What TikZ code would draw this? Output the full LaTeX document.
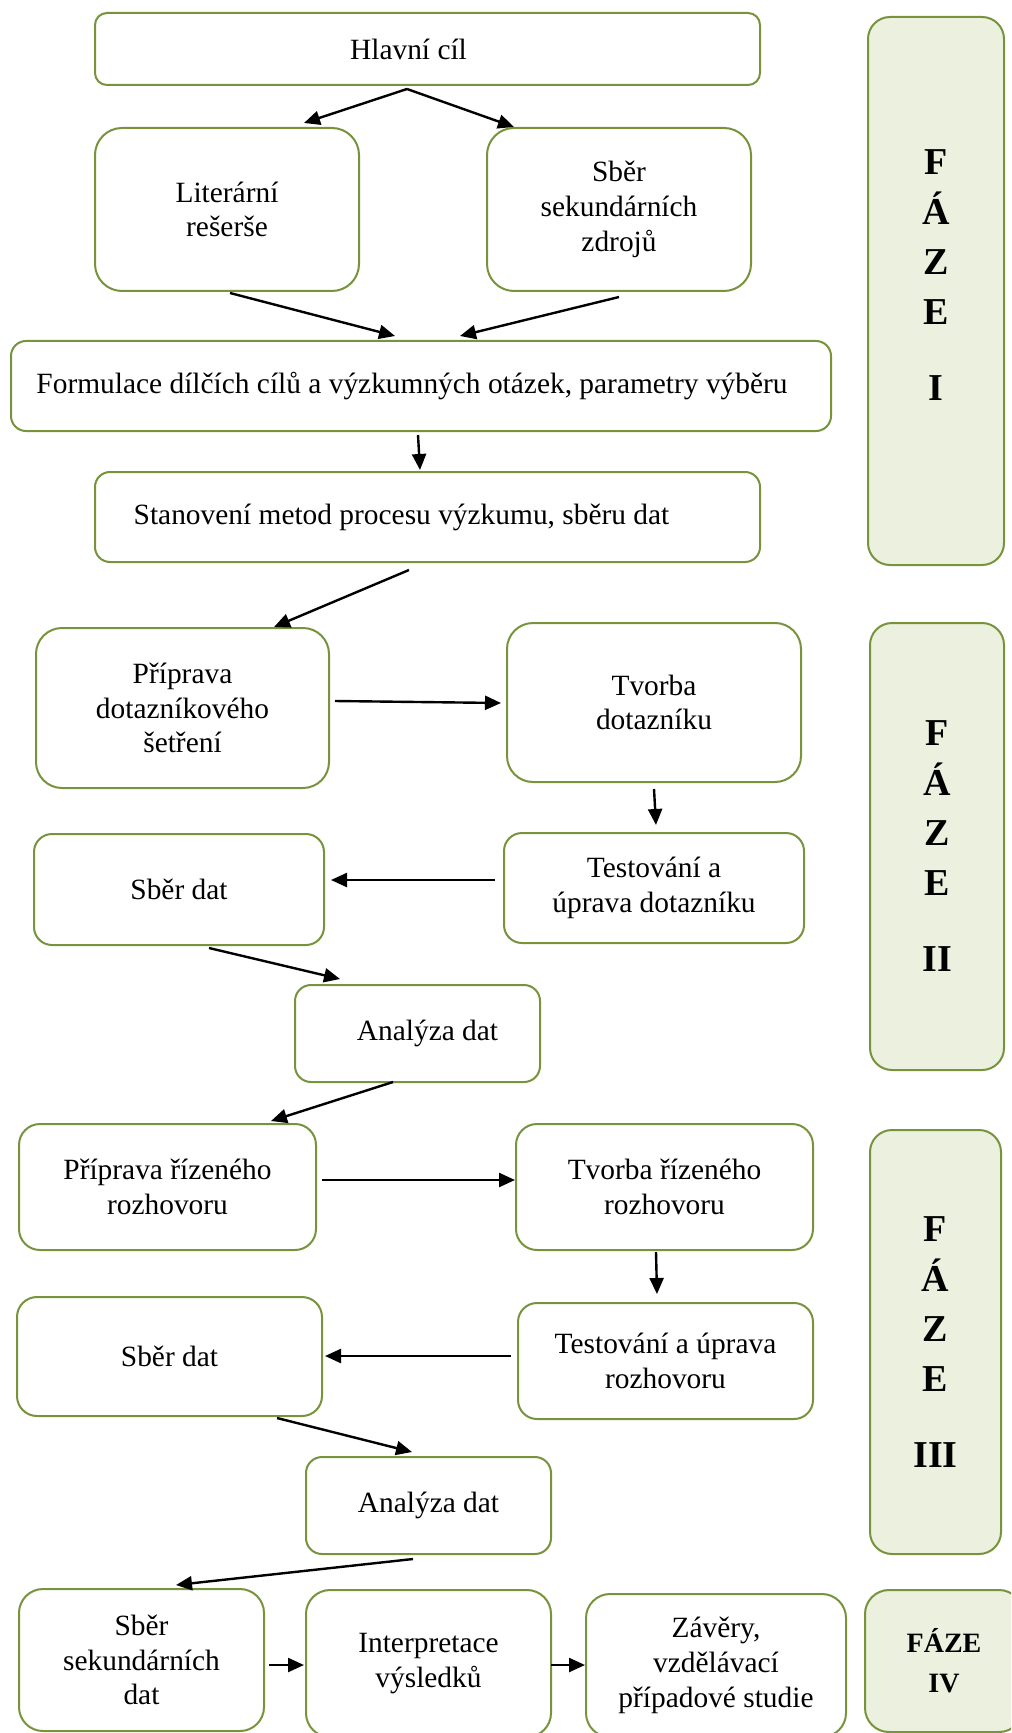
\documentclass[tikz,border=0pt]{standalone}
\usepackage{fontspec}
\setmainfont{Liberation Serif}
\usetikzlibrary{arrows.meta}
\definecolor{olivedge}{HTML}{77933C}
\definecolor{olivefill}{HTML}{EBF1DE}
\begin{document}
\begin{tikzpicture}[x=0.5pt,y=-0.5pt,
  box/.style={draw=olivedge, line width=1pt, inner sep=0pt, align=center,
    font=\fontsize{14.7}{17.4}\selectfont},
  sz/.style 2 args={minimum width=#1pt, minimum height=#2pt},
  phase/.style={box, fill=olivefill, font=\fontsize{19}{25}\selectfont\bfseries},
  arr/.style={-{Triangle[length=8pt,width=7pt]}, line width=1.2pt}]
\clip (0,0) rectangle (1011,1733);
\fill[white] (0,0) rectangle (1011,1733);

% ---- phase I ----
\node[box, rounded corners=6pt, sz={332.5}{36}] (hl) at (427.5,49) {Hlavní cíl\hspace*{19pt}};
\node[box, rounded corners=13.5pt, sz={132}{81.5}] (lit) at (227,209.5) {Literární\\rešerše};
\node[box, rounded corners=13.5pt, sz={132}{81.5}] (sek) at (619,209.5) {Sběr\\sekundárních\\zdrojů};
\node[box, rounded corners=7.5pt, sz={410}{45}] (form) at (421,386)
  {Formulace dílčích cílů a výzkumných otázek, parametry výběru\hspace*{9pt}};
\node[box, rounded corners=7.5pt, sz={332.5}{45}] (stan) at (427.5,517)
  {Stanovení metod procesu výzkumu, sběru dat\hspace*{26pt}};
% the letters sit a little above the middle of the first phase column
\node[phase, rounded corners=11pt, sz={68}{274}] (f1) at (936,291) {F\\Á\\Z\\E\\[13pt]I\\[-9pt]\mbox{}};

% ---- phase II ----
\node[box, rounded corners=13pt, sz={146.5}{80}] (ppd) at (182.5,708) {Příprava\\dotazníkového\\šetření};
\node[box, rounded corners=13pt, sz={147}{79.5}] (tvd) at (654,702.5) {Tvorba\\dotazníku};
\node[box, rounded corners=9pt, sz={150}{55}] (tsd) at (654,888) {Testování a\\úprava dotazníku};
\node[box, rounded corners=9pt, sz={145}{55.5}] (sd) at (179,889.5) {Sběr dat};
\node[box, rounded corners=8pt, sz={122.5}{48.5}] (an) at (417.5,1033.5) {\hspace*{10pt}Analýza dat};
\node[phase, rounded corners=11pt, sz={67}{223.5}] (f2) at (937,846.5) {F\\Á\\Z\\E\\[13pt]II};

% ---- phase III ----
\node[box, rounded corners=10.5pt, sz={148.5}{63}] (ppr) at (167.5,1187) {Příprava řízeného\\rozhovoru};
\node[box, rounded corners=10.5pt, sz={148.5}{63}] (tvr) at (664.5,1187) {Tvorba řízeného\\rozhovoru};
\node[box, rounded corners=9.5pt, sz={147.5}{58}] (tsr) at (665.5,1361) {Testování a úprava\\rozhovoru};
\node[box, rounded corners=10pt, sz={152.5}{59.5}] (sd3) at (169.5,1356.5) {Sběr dat};
\node[box, rounded corners=8pt, sz={122.5}{48.5}] (an3) at (428.5,1505.5) {Analýza dat};
\node[phase, rounded corners=11pt, sz={65.5}{212}] (f3) at (935.5,1342) {F\\Á\\Z\\E\\[13pt]III};

% ---- phase IV ----
\node[box, rounded corners=12pt, sz={122.5}{71}] (ss) at (141.5,1660) {Sběr\\sekundárních\\dat};
\node[box, rounded corners=12pt, sz={122.5}{73.5}] (int) at (428.5,1663.5) {Interpretace\\výsledků};
\node[box, rounded corners=12pt, sz={130}{71.5}] (zav) at (716,1665.5) {Závěry,\\vzdělávací\\případové studie};
\node[phase, rounded corners=12pt, sz={79}{71},
  font=\fontsize{14}{20}\selectfont\bfseries] (f4) at (944,1661) {FÁZE\\IV};

% ---- connectors ----
\coordinate (hlo) at ([xshift=-10.25pt,yshift=-1.5pt]hl.south);
\draw[arr] (hlo) -- ([xshift=38.5pt,yshift=2pt]lit.north);
\draw[arr] (hlo) -- ([xshift=-52.5pt]sek.north);
\draw[arr] ([xshift=1.5pt,yshift=-0.5pt]lit.south) -- ([xshift=-13pt,yshift=2pt]form.north);
\draw[arr] ([yshift=-2.5pt]sek.south) -- ([xshift=19.5pt,yshift=2pt]form.north);
\draw[arr] ([xshift=-1.5pt,yshift=-1.5pt]form.south) -- ([xshift=-3.75pt,yshift=0.5pt]stan.north);
\draw[arr] ([xshift=-9.25pt,yshift=-3.5pt]stan.south) -- ([xshift=45.75pt]ppd.north);

\draw[arr] ([xshift=2.5pt,yshift=3.5pt]ppd.east) -- ([xshift=-2.5pt,yshift=-0.25pt]tvd.west);
\draw[arr] ([yshift=-3pt]tvd.south) -- ([xshift=1pt,yshift=3.5pt]tsd.north);
\draw[arr] ([xshift=-4pt,yshift=4pt]tsd.west) -- ([xshift=3pt,yshift=4.75pt]sd.east);
\draw[arr] ([xshift=15pt,yshift=-1pt]sd.south) -- ([xshift=-38.75pt,yshift=2.5pt]an.north);
\draw[arr] ([xshift=-12.25pt,yshift=0.5pt]an.south) -- ([xshift=51.75pt,yshift=1pt]ppr.north);

\draw[arr] ([xshift=2.5pt,yshift=3.5pt]ppr.east) -- ([yshift=3.5pt]tvr.west);
\draw[arr] ([xshift=-4.25pt,yshift=-0.5pt]tvr.south) -- ([xshift=-4.25pt,yshift=4pt]tsr.north);
\draw[arr] ([xshift=-3pt,yshift=2.5pt]tsr.west) -- ([xshift=1pt,yshift=0.25pt]sd3.east);
\draw[arr] ([xshift=53.75pt,yshift=-0.5pt]sd3.south) -- ([xshift=-8.25pt,yshift=2pt]an3.north);
\draw[arr] ([xshift=-7.75pt,yshift=-2pt]an3.south) -- ([xshift=17.25pt,yshift=1.5pt]ss.north);

\draw[arr] ([xshift=2pt,yshift=-2.5pt]ss.east) -- ([xshift=-0.5pt,yshift=-0.75pt]int.west);
\draw[arr] ([xshift=-0.5pt,yshift=-0.75pt]int.east) -- ([yshift=0.25pt]zav.west);
\end{tikzpicture}
\end{document}
